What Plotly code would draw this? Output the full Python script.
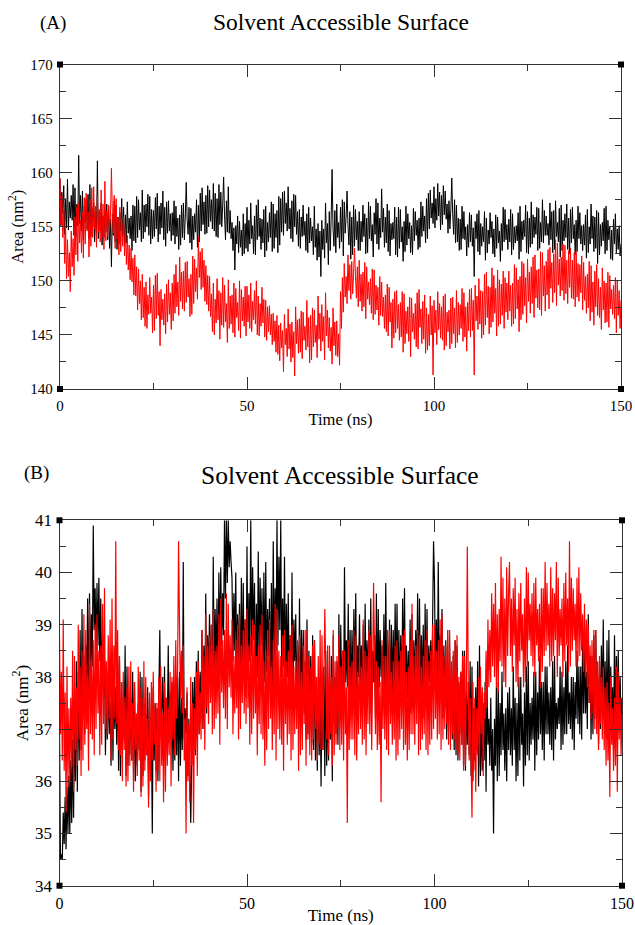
import numpy as np
import plotly.graph_objects as go

# Sampling grid of the trajectories (ns)
time_ns = np.arange(0, 150.25, 0.25)

# (A) SASA traces, nm^2
sas_a_black = [
    159.5, 155.1, 158.2, 156.2, 158.8, 154.3, 157.6, 154.9, 159.4, 154.7, 157.3, 155.8, 157.9, 155.6, 158.9, 154.2, 158.6, 154.0, 157.1, 155.1,
    161.6, 155.3, 157.9, 154.6, 158.3, 153.8, 156.9, 155.4, 157.6, 154.8, 158.0, 153.9, 158.9, 154.1, 156.8, 155.0, 157.2, 153.6, 156.5, 154.3,
    161.1, 153.9, 156.4, 154.6, 157.2, 153.3, 156.0, 154.0, 156.5, 154.5, 157.1, 153.8, 156.9, 153.0, 155.7, 151.3, 156.2, 154.2, 157.4, 153.6,
    157.0, 152.9, 155.9, 153.4, 156.3, 154.6, 157.6, 154.1, 156.8, 153.2, 156.1, 153.5, 157.3, 154.4, 155.8, 153.9, 156.0, 152.8, 157.0, 153.7,
    156.9, 153.5, 157.8, 154.0, 157.5, 154.7, 156.3, 153.6, 158.4, 153.9, 157.0, 154.5, 157.1, 155.0, 158.0, 154.2, 157.8, 153.4, 156.6, 153.9,
    156.5, 154.1, 157.7, 154.8, 158.1, 153.6, 156.9, 154.3, 157.2, 154.9, 158.3, 153.8, 156.8, 153.2, 157.3, 154.4, 157.4, 154.6, 156.2, 153.7,
    156.3, 154.2, 157.4, 153.4, 156.9, 154.1, 155.8, 152.9, 156.1, 153.3, 157.0, 154.0, 157.2, 153.8, 155.9, 159.1, 155.6, 154.3, 156.8, 153.5,
    156.7, 152.9, 156.0, 153.8, 156.2, 154.5, 157.5, 153.1, 157.0, 153.6, 158.1, 154.6, 158.6, 155.2, 157.3, 154.3, 157.9, 154.4, 158.8, 155.0,
    158.4, 155.5, 157.5, 154.8, 159.0, 154.6, 158.1, 154.1, 157.6, 154.0, 158.9, 155.2, 158.2, 155.0, 157.0, 159.6, 156.0, 153.8, 157.4, 154.5,
    158.7, 154.4, 156.5, 153.9, 155.4, 152.8, 154.9, 151.0, 155.1, 153.4, 156.0, 152.6, 155.5, 153.1, 154.7, 152.3, 156.2, 152.5, 155.3, 153.0,
    156.8, 152.7, 155.6, 153.4, 157.2, 153.9, 155.1, 152.5, 156.0, 152.4, 157.0, 153.8, 157.5, 154.1, 155.8, 152.9, 155.7, 153.5, 156.6, 152.2,
    156.9, 152.8, 155.4, 153.6, 156.3, 154.0, 157.3, 152.7, 157.1, 153.0, 156.2, 154.0, 156.5, 152.6, 157.8, 153.3, 157.6, 154.5, 158.2, 154.2,
    158.3, 155.3, 157.2, 154.6, 158.7, 154.8, 156.7, 153.9, 157.4, 153.6, 158.0, 155.0, 157.9, 154.3, 156.4, 153.2, 156.6, 153.0, 155.9, 154.1,
    157.0, 154.2, 155.5, 152.8, 156.2, 152.6, 156.8, 153.5, 155.8, 153.7, 155.0, 152.4, 156.9, 153.1, 154.8, 151.9, 155.3, 152.2, 154.6, 150.4,
    155.6, 152.9, 154.8, 152.1, 157.2, 153.5, 155.3, 151.5, 156.4, 152.8, 155.7, 160.3, 154.9, 153.2, 156.5, 152.6, 157.1, 154.0, 155.4, 153.0,
    156.8, 153.6, 157.5, 152.3, 157.3, 154.4, 155.9, 158.3, 155.2, 153.3, 156.4, 152.0, 155.9, 152.4, 157.0, 153.2, 156.6, 153.8, 155.5, 152.8,
    156.4, 152.8, 155.5, 153.6, 157.0, 154.1, 156.2, 152.5, 155.8, 152.6, 157.3, 153.9, 156.9, 153.7, 155.2, 152.2, 156.3, 154.3, 157.6, 153.4,
    157.2, 152.9, 155.8, 154.0, 158.5, 154.5, 156.7, 153.1, 155.9, 153.5, 157.1, 152.7, 156.5, 152.3, 155.3, 153.8, 155.4, 153.9, 156.8, 152.4,
    155.9, 152.2, 156.8, 153.0, 156.6, 153.6, 155.0, 151.8, 155.5, 152.7, 156.9, 153.3, 156.2, 153.9, 155.4, 152.6, 155.1, 152.4, 156.7, 153.7,
    156.4, 154.2, 155.6, 152.9, 155.8, 153.1, 157.3, 154.1, 156.9, 154.6, 156.0, 153.5, 157.6, 153.9, 158.1, 154.8, 158.4, 155.8, 157.2, 155.3,
    158.7, 154.9, 157.6, 155.6, 159.0, 156.0, 158.2, 154.7, 157.9, 155.2, 158.8, 156.1, 158.3, 155.7, 157.1, 154.4, 157.4, 154.8, 156.6, 159.5,
    156.2, 154.3, 157.5, 153.5, 157.0, 153.6, 155.8, 152.8, 155.7, 152.9, 156.9, 153.9, 156.4, 153.8, 155.0, 152.3, 155.2, 153.1, 156.3, 153.6,
    156.1, 153.2, 154.9, 150.4, 155.5, 153.9, 156.2, 152.7, 156.5, 152.4, 155.3, 153.2, 155.0, 153.6, 156.4, 151.9, 155.8, 152.6, 154.7, 153.4,
    156.3, 154.0, 155.5, 152.5, 154.8, 152.2, 156.1, 153.0, 155.9, 153.5, 154.6, 151.8, 155.3, 152.8, 156.8, 153.6, 156.6, 153.8, 155.2, 152.9,
    155.7, 153.6, 156.6, 152.4, 156.2, 152.9, 155.0, 153.5, 155.1, 153.7, 156.3, 152.0, 156.9, 152.7, 155.5, 153.8, 155.6, 154.1, 157.0, 152.6,
    156.4, 152.5, 155.8, 153.1, 157.3, 153.4, 156.1, 154.0, 155.9, 154.3, 156.8, 152.8, 156.7, 153.0, 155.4, 153.6, 157.5, 153.5, 156.5, 154.2,
    156.0, 154.2, 155.3, 153.3, 157.2, 153.8, 156.4, 152.6, 156.5, 152.9, 157.4, 154.1, 155.4, 153.6, 156.7, 152.2, 157.0, 152.8, 155.6, 153.7,
    156.2, 154.0, 157.1, 152.9, 155.8, 152.5, 156.6, 153.5, 156.8, 153.9, 155.2, 152.4, 155.6, 152.7, 156.9, 153.9, 156.3, 153.4, 155.1, 152.8,
    155.2, 153.3, 156.1, 152.1, 156.6, 152.6, 155.0, 153.4, 157.1, 153.9, 156.0, 152.7, 155.9, 153.0, 156.5, 151.6, 156.3, 152.4, 155.2, 153.2,
    155.4, 153.7, 156.7, 152.5, 156.9, 152.8, 155.6, 153.8, 155.0, 152.0, 154.7, 151.9, 155.7, 153.4, 156.2, 152.6, 154.8, 152.9, 155.1, 152.3,
    153.4,
]

sas_a_red = [
    159.5, 155.2, 157.8, 154.0, 156.5, 151.6, 154.9, 150.2, 153.8, 150.4, 152.6, 149.0, 154.6, 151.3, 153.9, 150.5, 155.9, 152.4, 156.8, 151.8,
    157.2, 153.5, 155.6, 152.6, 156.3, 152.1, 157.7, 153.4, 158.1, 154.6, 156.4, 152.2, 157.5, 153.2, 158.6, 154.0, 158.7, 154.8, 156.9, 153.1,
    157.8, 154.5, 156.6, 153.6, 158.4, 154.0, 157.1, 152.9, 159.2, 153.7, 156.5, 154.1, 157.0, 154.9, 156.0, 160.4, 156.2, 154.4, 157.9, 153.0,
    157.6, 153.9, 155.8, 152.4, 156.8, 152.7, 155.4, 153.2, 155.9, 152.3, 154.8, 151.5, 154.2, 151.0, 153.3, 150.1, 153.0, 149.9, 152.1, 148.7,
    152.4, 148.6, 151.3, 147.3, 151.1, 147.9, 150.0, 146.4, 150.6, 146.6, 149.4, 145.8, 149.9, 145.6, 148.7, 146.9, 150.3, 147.0, 148.5, 145.2,
    149.6, 145.4, 150.5, 146.5, 150.7, 146.8, 149.0, 144.0, 149.2, 146.4, 148.3, 145.9, 148.8, 145.1, 149.7, 146.2, 150.1, 146.9, 148.9, 145.5,
    149.8, 146.3, 150.6, 147.0, 151.5, 147.6, 149.9, 146.8, 152.2, 148.1, 150.8, 147.4, 150.9, 147.2, 151.7, 148.0, 151.8, 148.5, 150.2, 146.7,
    150.6, 146.9, 152.3, 147.9, 152.0, 149.0, 151.2, 148.3, 154.1, 150.3, 152.7, 149.2, 153.0, 149.4, 151.9, 148.1, 151.4, 147.8, 150.5, 147.2,
    150.4, 146.7, 148.8, 145.3, 149.8, 145.0, 148.3, 146.1, 150.2, 146.4, 149.1, 144.6, 148.9, 145.9, 150.3, 145.7, 149.6, 146.2, 147.9, 144.3,
    150.1, 145.6, 148.6, 146.0, 148.7, 145.2, 149.8, 144.8, 149.3, 146.6, 148.0, 145.4, 150.0, 144.7, 149.2, 146.3, 148.5, 145.8, 149.5, 144.9,
    149.5, 146.2, 148.7, 145.6, 149.8, 145.3, 148.1, 146.4, 149.1, 146.0, 150.0, 145.0, 148.6, 144.9, 147.9, 145.8, 149.4, 146.1, 148.3, 144.8,
    148.2, 144.5, 147.6, 145.3, 147.7, 145.0, 146.9, 144.1, 147.0, 144.4, 146.3, 143.4, 146.8, 143.2, 145.9, 142.6, 146.1, 143.8, 145.4, 141.6,
    146.9, 144.1, 145.6, 143.0, 147.4, 143.7, 146.0, 142.5, 146.2, 142.9, 145.3, 141.2, 147.6, 144.2, 146.4, 143.3, 146.5, 143.4, 147.2, 142.8,
    147.1, 144.5, 145.8, 143.6, 148.2, 143.9, 146.6, 142.4, 146.8, 142.7, 147.5, 143.9, 147.3, 144.3, 145.9, 142.9, 148.6, 144.6, 147.0, 143.5,
    147.8, 144.4, 146.7, 142.7, 148.9, 144.9, 147.3, 143.8, 146.6, 143.5, 145.7, 142.3, 147.5, 144.0, 146.2, 143.1, 146.3, 143.0, 145.1, 142.2,
    149.0, 145.6, 150.3, 147.1, 151.6, 148.5, 150.4, 147.9, 152.4, 149.1, 151.5, 148.3, 151.8, 148.8, 150.7, 153.0, 150.5, 148.4, 151.3, 147.6,
    151.9, 148.1, 150.6, 147.2, 150.8, 147.6, 151.7, 146.5, 151.3, 148.3, 149.9, 147.8, 150.2, 147.0, 151.1, 146.4, 151.0, 146.9, 149.6, 147.3,
    149.4, 145.9, 150.4, 146.8, 149.9, 146.7, 148.5, 145.6, 148.7, 145.3, 149.7, 144.9, 149.4, 146.2, 148.0, 143.8, 148.3, 144.7, 149.0, 145.2,
    149.1, 145.6, 147.8, 144.5, 148.0, 144.8, 149.0, 143.4, 148.8, 144.2, 147.2, 145.1, 147.6, 144.4, 148.5, 143.0, 148.4, 145.3, 147.0, 144.6,
    147.9, 143.9, 148.9, 143.7, 149.2, 145.7, 147.4, 144.2, 148.1, 144.6, 148.7, 143.3, 147.5, 143.6, 146.9, 144.0, 148.6, 145.0, 147.7, 141.3,
    148.2, 145.2, 147.3, 144.1, 149.0, 145.5, 147.9, 144.7, 147.6, 144.5, 148.6, 143.6, 148.8, 144.0, 147.1, 145.3, 147.3, 143.7, 148.4, 144.2,
    148.5, 145.1, 147.5, 143.8, 149.1, 144.3, 148.0, 145.0, 147.8, 145.6, 149.3, 144.4, 148.9, 144.8, 147.6, 143.5, 148.0, 145.4, 149.2, 144.8,
    149.3, 145.4, 148.2, 141.3, 149.6, 146.3, 148.6, 145.5, 150.2, 146.0, 149.1, 144.7, 149.0, 145.0, 150.6, 145.9, 150.8, 146.6, 149.5, 145.1,
    149.4, 145.7, 151.2, 146.2, 150.5, 147.0, 149.3, 144.9, 151.0, 145.8, 150.1, 146.0, 149.7, 146.8, 150.9, 145.6, 150.3, 147.1, 149.8, 146.4,
    150.9, 147.2, 149.6, 145.8, 149.8, 146.0, 151.5, 146.5, 151.2, 147.4, 150.1, 145.3, 150.4, 146.4, 151.8, 146.9, 151.6, 147.7, 150.3, 146.1,
    152.0, 148.1, 150.8, 147.0, 151.3, 147.9, 152.2, 146.6, 152.4, 148.4, 151.0, 147.5, 151.1, 147.3, 152.7, 146.8, 152.6, 148.6, 151.4, 147.2,
    151.8, 148.7, 152.9, 147.4, 153.1, 149.3, 151.7, 148.0, 152.5, 148.9, 153.8, 147.7, 153.5, 149.6, 152.0, 148.6, 152.2, 149.1, 153.4, 148.2,
    153.3, 148.8, 151.9, 147.9, 152.8, 149.4, 153.0, 148.4, 151.9, 148.3, 152.6, 147.6, 152.7, 148.5, 151.6, 148.1, 151.5, 148.9, 152.3, 147.3,
    151.7, 148.2, 150.4, 147.0, 150.6, 147.5, 151.8, 146.3, 151.4, 147.1, 149.9, 145.9, 150.9, 147.6, 151.5, 146.8, 150.2, 146.6, 149.4, 145.5,
    151.2, 147.3, 150.0, 146.1, 149.8, 146.2, 150.8, 145.7, 150.5, 147.4, 149.2, 146.9, 149.6, 146.5, 150.3, 145.2, 150.0, 146.8, 149.1, 145.6,
    148.2,
]

# (B) SASA traces, nm^2
sas_b_black = [
    37.0, 34.5, 34.6, 34.5, 35.4, 34.8, 35.7, 34.7, 35.9, 35.0, 36.1, 35.0, 36.4, 35.2, 36.8, 35.3, 37.2, 36.0, 38.3, 35.8,
    38.1, 36.4, 38.9, 36.6, 39.3, 37.2, 38.4, 36.9, 38.6, 37.8, 39.5, 37.4, 39.6, 38.0, 39.2, 38.2, 40.9, 38.9, 39.7, 38.5,
    39.8, 38.6, 39.9, 38.3, 39.5, 37.9, 38.8, 37.6, 38.4, 36.5, 37.9, 36.8, 38.1, 36.9, 37.5, 36.3, 38.5, 36.4, 38.0, 37.0,
    37.8, 36.7, 38.4, 36.2, 38.3, 36.1, 37.6, 36.6, 37.9, 36.8, 38.6, 36.1, 38.2, 36.3, 37.4, 36.5, 37.6, 36.4, 38.1, 36.0,
    37.9, 36.0, 37.2, 36.3, 37.5, 36.6, 38.1, 35.8, 38.0, 36.1, 37.4, 36.4, 37.3, 36.5, 37.8, 35.7, 37.6, 36.2, 37.0, 35.0,
    37.8, 36.4, 37.5, 36.2, 37.4, 36.0, 37.7, 38.9, 37.1, 37.4, 38.0, 36.5, 38.2, 36.7, 37.6, 37.0, 38.6, 36.9, 37.7, 36.8,
    37.9, 36.2, 37.3, 36.4, 37.5, 36.5, 38.0, 36.0, 38.1, 36.3, 37.6, 36.6, 40.2, 36.8, 37.4, 36.9, 37.7, 36.1, 37.2, 36.3,
    35.2, 36.4, 37.9, 36.7, 38.0, 36.5, 38.3, 36.8, 38.5, 36.9, 38.1, 37.2, 38.9, 37.0, 38.6, 37.4, 39.6, 37.3, 38.8, 37.9,
    39.2, 37.9, 39.0, 37.6, 40.3, 38.0, 39.3, 38.1, 39.5, 37.8, 40.0, 38.4, 40.1, 38.6, 39.6, 38.8, 41.0, 39.5, 41.0, 39.8,
    41.0, 40.1, 40.6, 40.2, 39.9, 38.3, 39.6, 38.5, 40.0, 38.1, 39.2, 38.2, 39.4, 37.7, 39.9, 37.8, 39.8, 38.0, 39.1, 37.6,
    40.5, 38.0, 39.6, 38.3, 41.0, 38.4, 40.1, 38.7, 39.8, 37.6, 39.4, 38.0, 40.4, 38.2, 39.9, 38.6, 39.7, 37.8, 40.0, 37.9,
    40.2, 38.1, 39.3, 38.4, 39.5, 37.5, 39.8, 37.7, 40.6, 38.3, 39.7, 38.5, 41.0, 38.6, 40.3, 38.9, 41.0, 38.0, 39.5, 38.2,
    40.3, 37.8, 39.4, 38.0, 39.6, 37.9, 38.8, 37.5, 40.0, 37.4, 39.1, 38.3, 39.2, 37.6, 38.6, 37.2, 39.5, 37.1, 38.9, 37.6,
    38.9, 37.3, 38.3, 36.8, 39.1, 36.9, 38.5, 37.3, 38.4, 36.7, 38.8, 36.6, 38.7, 36.4, 37.9, 36.2, 38.0, 36.5, 37.7, 35.9,
    37.8, 36.6, 38.2, 36.1, 38.5, 36.3, 37.6, 36.4, 37.9, 36.8, 38.4, 36.0, 38.8, 37.1, 38.0, 36.9, 38.3, 36.7, 39.2, 37.2,
    39.0, 37.6, 38.5, 37.4, 40.1, 37.9, 38.7, 37.8, 39.4, 37.3, 38.9, 37.5, 38.9, 37.7, 39.3, 37.9, 39.6, 37.5, 38.6, 38.0,
    39.2, 37.9, 38.6, 37.6, 39.0, 37.4, 39.4, 37.8, 38.7, 37.7, 39.1, 37.3, 39.5, 37.6, 38.5, 37.9, 38.8, 37.2, 39.6, 37.4,
    39.3, 37.8, 38.9, 38.0, 38.6, 37.4, 39.2, 37.5, 39.8, 37.9, 38.7, 37.7, 39.1, 37.3, 39.0, 37.6, 38.9, 37.5, 39.4, 37.8,
    39.4, 37.8, 38.9, 37.5, 38.8, 37.3, 39.5, 37.9, 39.7, 37.7, 38.6, 37.6, 38.5, 37.5, 39.1, 37.3, 39.2, 37.4, 38.7, 37.8,
    38.9, 37.9, 39.6, 37.4, 39.5, 37.6, 38.8, 37.7, 39.0, 37.2, 39.4, 37.6, 39.3, 37.8, 38.6, 37.9, 38.7, 37.6, 39.2, 40.6,
    39.8, 37.9, 39.1, 37.6, 40.2, 38.0, 38.8, 37.9, 39.3, 37.2, 38.6, 37.4, 38.7, 36.8, 38.2, 37.0, 38.9, 37.1, 37.8, 36.8,
    38.4, 36.6, 38.7, 36.5, 38.6, 36.4, 37.9, 36.9, 38.1, 36.7, 38.5, 36.3, 38.5, 36.2, 37.7, 36.7, 37.9, 36.5, 38.3, 36.1,
    38.2, 36.0, 37.4, 36.4, 37.8, 36.6, 38.3, 35.9, 38.6, 36.1, 37.3, 36.2, 37.5, 36.4, 37.9, 35.8, 38.0, 36.7, 37.2, 36.3,
    37.6, 36.2, 37.0, 35.0, 37.2, 36.3, 37.8, 36.0, 37.9, 36.1, 37.5, 36.5, 38.1, 36.6, 37.3, 36.2, 37.4, 36.0, 37.7, 36.6,
    37.8, 36.5, 37.4, 36.3, 38.2, 36.6, 37.6, 36.0, 37.5, 36.1, 38.0, 36.4, 38.0, 36.7, 37.3, 35.9, 37.7, 36.3, 38.2, 36.5,
    38.3, 36.4, 37.5, 36.7, 37.6, 36.8, 38.1, 36.2, 38.1, 36.5, 37.7, 36.8, 38.4, 36.9, 37.9, 36.6, 37.9, 36.4, 38.2, 36.9,
    38.2, 36.9, 37.7, 36.7, 37.8, 36.6, 38.3, 36.4, 38.4, 36.8, 37.5, 37.0, 37.6, 37.1, 38.2, 36.6, 38.1, 36.7, 37.8, 36.9,
    38.3, 36.9, 38.6, 37.1, 37.7, 37.0, 38.0, 36.8, 38.0, 36.6, 37.9, 37.2, 38.5, 37.1, 38.2, 36.9, 38.2, 36.8, 38.7, 37.3,
    38.6, 37.3, 38.1, 37.0, 39.2, 37.5, 38.4, 36.8, 38.4, 36.9, 38.8, 37.2, 38.9, 37.4, 38.0, 36.7, 38.3, 37.0, 38.6, 37.4,
    39.1, 37.2, 38.3, 36.9, 38.7, 36.8, 38.9, 37.1, 38.2, 37.3, 37.8, 36.6, 38.8, 36.9, 38.4, 37.3, 38.5, 37.1, 38.0, 37.0,
    37.6,
]

sas_b_red = [
    38.8, 36.9, 38.1, 36.4, 39.1, 36.2, 37.7, 35.4, 38.2, 35.9, 37.4, 36.0, 37.6, 36.3, 38.5, 35.8, 38.4, 36.6, 37.8, 36.3,
    39.0, 36.8, 38.2, 36.1, 38.5, 36.4, 39.2, 36.7, 38.9, 37.0, 38.0, 36.2, 39.4, 36.9, 38.3, 36.8, 38.7, 36.5, 39.0, 37.0,
    39.2, 37.3, 38.5, 36.5, 38.6, 36.7, 39.4, 37.1, 39.7, 37.0, 38.3, 36.9, 38.8, 37.2, 39.1, 36.4, 39.5, 36.8, 38.6, 37.2,
    40.6, 37.1, 38.9, 36.6, 38.4, 36.5, 37.9, 36.0, 38.1, 36.6, 37.6, 35.9, 37.8, 36.0, 38.2, 36.3, 38.3, 36.4, 37.5, 35.8,
    37.9, 36.6, 37.3, 36.1, 38.2, 36.4, 37.8, 35.7, 37.6, 35.9, 38.3, 36.2, 38.0, 36.5, 37.2, 35.5, 37.7, 36.0, 37.9, 36.4,
    38.1, 36.7, 37.4, 35.8, 37.5, 36.2, 38.0, 36.0, 38.2, 36.3, 37.3, 35.6, 37.9, 35.8, 37.6, 36.3, 37.4, 36.5, 38.1, 35.9,
    38.0, 36.8, 38.4, 36.5, 38.7, 37.2, 38.2, 40.6, 39.0, 37.6, 38.5, 37.3, 38.6, 36.4, 37.2, 35.0, 37.8, 36.0, 37.1, 35.6,
    38.0, 36.3, 37.5, 35.2, 37.4, 36.6, 38.1, 36.1, 38.3, 36.9, 37.7, 36.8, 38.9, 37.0, 38.4, 36.6, 39.2, 37.4, 38.6, 37.1,
    38.8, 37.5, 39.0, 36.9, 39.3, 37.0, 38.5, 37.2, 38.6, 37.3, 39.2, 36.7, 39.5, 37.7, 38.7, 37.4, 38.9, 37.2, 39.6, 37.0,
    39.4, 37.8, 38.8, 37.6, 39.1, 36.9, 38.4, 37.3, 38.7, 37.4, 39.0, 36.8, 39.2, 37.0, 38.6, 37.5, 38.9, 37.3, 39.1, 37.1,
    39.3, 37.4, 38.6, 36.7, 38.8, 36.9, 39.1, 37.2, 39.0, 37.3, 38.4, 36.5, 38.6, 37.1, 39.0, 36.9, 39.2, 36.8, 38.3, 36.3,
    38.5, 36.6, 38.9, 37.0, 39.1, 37.2, 38.2, 36.6, 38.7, 36.9, 39.4, 36.4, 39.3, 37.0, 38.5, 36.8, 38.4, 36.7, 38.8, 36.2,
    38.9, 37.1, 38.3, 36.7, 38.5, 36.9, 38.8, 36.4, 39.0, 36.6, 38.2, 36.9, 38.3, 37.0, 38.7, 36.2, 38.8, 36.5, 38.1, 36.6,
    38.6, 37.1, 38.9, 36.3, 38.9, 36.8, 38.4, 36.5, 38.2, 36.4, 38.6, 36.8, 38.7, 37.0, 38.0, 36.4, 38.4, 36.7, 38.9, 36.6,
    38.8, 36.6, 37.9, 39.3, 38.1, 36.8, 38.6, 36.5, 38.6, 36.9, 38.0, 36.3, 38.9, 36.5, 38.3, 36.7, 38.4, 37.0, 38.8, 36.6,
    38.2, 36.7, 38.5, 36.4, 38.5, 36.9, 37.8, 35.2, 38.7, 36.6, 38.2, 36.8, 38.3, 36.8, 38.9, 36.5, 38.8, 36.4, 38.1, 36.9,
    38.6, 37.0, 38.2, 36.7, 39.1, 36.8, 38.5, 36.5, 38.4, 37.1, 38.9, 36.9, 38.8, 36.6, 38.0, 39.8, 38.5, 36.9, 38.3, 36.6,
    38.2, 36.7, 37.9, 35.6, 38.7, 37.0, 38.4, 36.8, 38.4, 36.6, 38.9, 36.5, 38.9, 37.1, 38.1, 36.7, 38.3, 36.8, 38.6, 36.4,
    38.7, 36.5, 38.3, 36.8, 38.5, 37.0, 38.8, 36.6, 38.9, 36.7, 38.1, 36.4, 38.2, 36.6, 38.7, 36.9, 39.4, 36.9, 38.4, 36.7,
    38.6, 37.1, 38.9, 36.5, 38.8, 36.6, 38.2, 36.8, 38.4, 36.9, 38.7, 36.6, 38.9, 36.5, 38.3, 36.7, 38.5, 36.8, 39.0, 37.0,
    39.0, 37.2, 38.5, 36.8, 38.7, 36.9, 39.1, 36.6, 39.2, 36.8, 38.4, 37.0, 38.6, 37.1, 38.9, 36.7, 38.9, 36.6, 38.3, 36.9,
    38.5, 36.8, 38.7, 36.6, 38.8, 36.5, 38.0, 36.4, 38.1, 36.7, 38.4, 36.2, 38.4, 36.3, 37.8, 40.5, 37.9, 36.4, 37.6, 36.0,
    35.3, 37.9, 36.2, 37.6, 35.8, 37.4, 36.5, 38.0, 36.3, 38.2, 36.9, 37.8, 36.1, 37.7, 37.2, 38.5, 37.4, 39.1, 37.8, 38.9,
    37.9, 39.6, 38.2, 39.4, 38.0, 39.8, 37.8, 39.2, 37.7, 39.3, 38.3, 40.3, 38.2, 39.9, 37.9, 39.5, 37.8, 40.1, 38.4, 39.6,
    40.2, 38.4, 39.5, 38.1, 39.7, 38.6, 39.9, 37.9, 39.3, 37.8, 39.6, 38.3, 39.8, 38.5, 39.2, 37.8, 39.5, 37.9, 40.1, 38.2,
    40.0, 38.7, 39.4, 38.4, 39.6, 38.2, 39.8, 38.0, 39.9, 38.6, 39.3, 38.3, 39.4, 37.8, 39.7, 38.1, 39.7, 38.4, 40.2, 38.5,
    39.8, 38.6, 39.4, 38.2, 40.1, 38.3, 39.7, 38.4, 39.6, 38.7, 40.2, 38.0, 39.9, 38.4, 39.3, 38.6, 39.5, 38.0, 39.8, 38.3,
    40.0, 38.6, 39.5, 38.1, 40.6, 38.2, 39.9, 38.5, 39.7, 38.7, 39.4, 38.2, 39.9, 38.3, 40.1, 38.4, 39.6, 38.5, 39.2, 38.1,
    39.4, 38.0, 39.1, 37.8, 39.0, 37.5, 38.6, 37.2, 38.7, 37.3, 38.9, 37.0, 38.9, 36.9, 38.3, 36.6, 38.4, 37.1, 38.0, 36.8,
    38.2, 36.6, 37.8, 36.3, 37.9, 36.4, 37.5, 35.7, 38.0, 36.7, 37.4, 36.2, 37.6, 36.3, 38.2, 35.8, 38.1, 36.8, 37.6, 36.5,
    37.3,
]

for s in (sas_a_black, sas_a_red, sas_b_black, sas_b_red):
    assert len(s) == len(time_ns), len(s)

x_ticks = [0, 50, 100, 150]
panel_titles = ["Solvent Accessible Surface", "Solvent Accessible Surface"]
panel_tags = ["(A)", "(B)"]
x_label = "Time (ns)"
y_label = "Area (nm<sup>2</sup>)"

W, H = 635, 925
SERIF = "Liberation Serif, Times New Roman, serif"
AXIS_COLOR = "#333333"


def px_x(v):
    return v / W


def px_y(v):
    return 1 - v / H


fig = go.Figure()

# traces: black first, red drawn over it
for xa, ya, blk, red, lw in (("x", "y", sas_a_black, sas_a_red, 1.0),
                             ("x2", "y2", sas_b_black, sas_b_red, 1.2)):
    fig.add_trace(go.Scatter(x=time_ns, y=blk, mode="lines", line=dict(color="black", width=lw),
                             xaxis=xa, yaxis=ya, showlegend=False))
    fig.add_trace(go.Scatter(x=time_ns, y=red, mode="lines", line=dict(color="#ff0000", width=lw),
                             xaxis=xa, yaxis=ya, showlegend=False))


def axis_style(size, title, title_size, standoff):
    return dict(
        showline=True, linecolor=AXIS_COLOR, linewidth=1.3, mirror="ticks",
        ticks="inside", ticklen=12, tickwidth=1.3, tickcolor=AXIS_COLOR,
        showgrid=False, zeroline=False, ticklabelstandoff=3, automargin=False,
        tickfont=dict(family=SERIF, size=size, color="black"),
        title=dict(text=title, standoff=standoff,
                   font=dict(family=SERIF, size=title_size, color="black")),
    )


def minor(step):
    return dict(dtick=step, ticks="inside", ticklen=6, tickcolor=AXIS_COLOR, tickwidth=1.3)


fig.update_layout(
    xaxis=dict(axis_style(15, x_label, 16.5, 0), domain=[px_x(60), px_x(621)], anchor="y",
               range=[0, 150], tickvals=x_ticks, minor=minor(25)),
    yaxis=dict(axis_style(15, y_label, 16.5, 2), domain=[px_y(389), px_y(64.5)], anchor="x",
               range=[140, 170], dtick=5, minor=minor(2.5)),
    xaxis2=dict(axis_style(16, x_label, 17, 2), domain=[px_x(59.5), px_x(622)], anchor="y2",
                range=[0, 150], tickvals=x_ticks, minor=minor(25)),
    yaxis2=dict(axis_style(17, y_label, 17, 2), domain=[px_y(885.7), px_y(520.3)], anchor="x2",
                range=[34, 41], dtick=1, minor=minor(0.5)),
)

annotations = [
    dict(text=panel_tags[0], x=px_x(53), y=px_y(23), font=dict(size=19)),
    dict(text=panel_titles[0], x=px_x(341), y=px_y(22), font=dict(size=23.5)),
    dict(text=panel_tags[1], x=px_x(36), y=px_y(473), font=dict(size=19)),
    dict(text=panel_titles[1], x=px_x(340), y=px_y(475), font=dict(size=25.5)),
]
for a in annotations:
    a.update(xref="paper", yref="paper", showarrow=False, xanchor="center", yanchor="middle")
    a["font"] = dict(family=SERIF, color="black", **a["font"])

# small filled squares at the frame corners
shapes = []
for xa, ya in (("x", "y"), ("x2", "y2")):
    for cx in (0, 1):
        for cy in (0, 1):
            shapes.append(dict(
                type="rect", xref=f"{xa} domain", yref=f"{ya} domain",
                xsizemode="pixel", ysizemode="pixel", xanchor=cx, yanchor=cy,
                x0=-3, x1=3, y0=-3, y1=3,
                fillcolor="black", line=dict(width=0),
            ))

fig.update_layout(
    width=W, height=H, autosize=False,
    margin=dict(l=0, r=0, t=0, b=0),
    paper_bgcolor="white", plot_bgcolor="white",
    annotations=annotations, shapes=shapes,
)

# page body without default margins so the 635x925 figure fits the window exactly
fig.write_html("out.html", post_script="document.body.style.margin='0';document.body.style.overflow='hidden';")
